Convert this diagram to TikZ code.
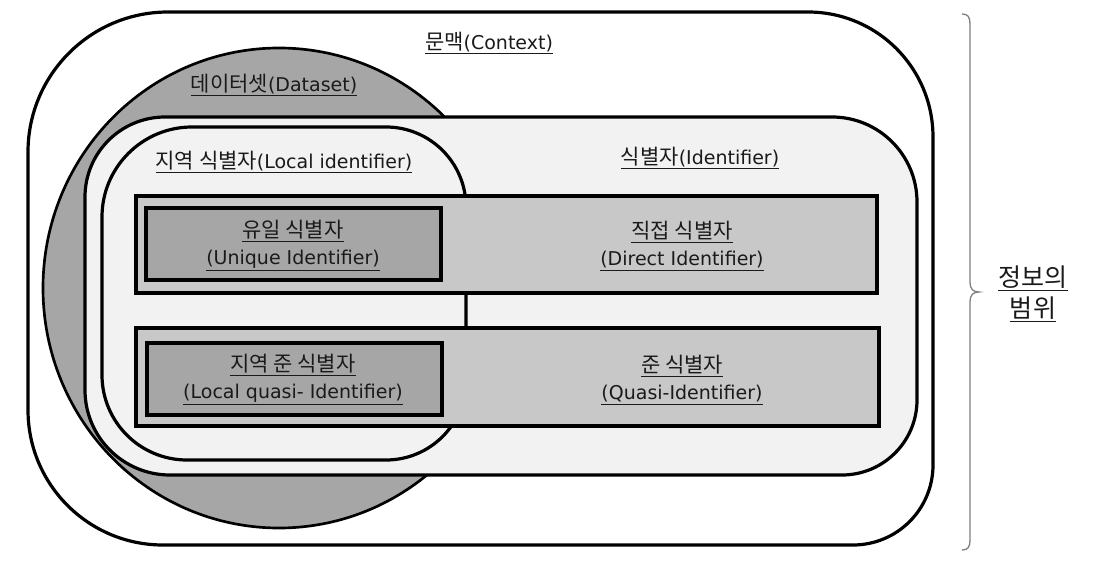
\documentclass[tikz,border=0pt]{standalone}
\usepackage{fontspec}
\setmainfont{DejaVu Sans}
\newfontfamily\kr[Scale=1.105]{Noto Sans CJK KR}
\definecolor{dsgray}{HTML}{A6A6A6}
\definecolor{idfill}{HTML}{F2F2F2}
\definecolor{rowfill}{HTML}{C8C8C8}
\definecolor{boxfill}{HTML}{A6A6A6}
\definecolor{txtc}{HTML}{1A1A1A}
\definecolor{bracec}{HTML}{808080}
\begin{document}
\begin{tikzpicture}[x=0.75pt,y=-0.75pt,
  shapeline/.style={draw=black, line width=2.4pt},
  lbl/.style={inner sep=0pt, text=txtc, align=center, font=\fontsize{14.25pt}{20.25pt}\selectfont},
  biglbl/.style={inner sep=0pt, text=txtc, align=center, font=\fontsize{17pt}{23.25pt}\selectfont},
  bracestyle/.style={draw=bracec, line width=1pt}]
\useasboundingbox (0,0) rectangle (1108,567);
% context
\path[shapeline, fill=white] (168,12) -- (808,12) arc[start angle=-90,end angle=0,radius=125]
  -- (933,465) arc[start angle=0,end angle=90,radius=80]
  -- (163,545) arc[start angle=90,end angle=180,radius=135]
  -- (28,152) arc[start angle=180,end angle=270,radius=140] -- cycle;
% dataset ellipse
\path[draw=black, line width=2pt, fill=dsgray] (279,288) ellipse[x radius=236, y radius=240];
% identifier
\path[shapeline, fill=idfill] (165,117) -- (832,117) arc[start angle=-90,end angle=0,radius=85]
  -- (917,400) arc[start angle=0,end angle=90,radius=75]
  -- (170,475) arc[start angle=90,end angle=180,radius=85]
  -- (85,197) arc[start angle=180,end angle=270,radius=80] -- cycle;
% local identifier
\path[shapeline, fill=idfill] (192,127) -- (386,127) arc[start angle=-90,end angle=0,radius=80]
  -- (466,380) arc[start angle=0,end angle=90,radius=80]
  -- (187,460) arc[start angle=90,end angle=180,radius=85]
  -- (102,217) arc[start angle=180,end angle=270,radius=90] -- cycle;
% rows
\path[shapeline, fill=rowfill] (136,196) rectangle (877,293);
\path[shapeline, fill=rowfill] (136,328) rectangle (879,426);
\path[shapeline, fill=boxfill] (146,208) rectangle (441,280);
\path[shapeline, fill=boxfill] (147,343) rectangle (442,415);
% labels
\node[lbl] (ctx) at (489,43) {\underline{{\kr 문맥}(Context)}};
\node[lbl] (ds) at (274,85) {\underline{{\kr 데이터셋}(Dataset)}};
\node[lbl] (idl) at (700,158) {\underline{{\kr 식별자}(Identifier)}};
\node[lbl] (lidl) at (284,162) {\underline{{\kr 지역 식별자}(Local identifier)}};
\node[lbl] (unq) at (293,246) {\underline{\kr 유일 식별자}\\\underline{(Unique Identifier)}};
\node[lbl] (dir) at (682,246) {\underline{\kr 직접 식별자}\\\underline{(Direct Identifier)}};
\node[lbl] (lqs) at (293,380) {\underline{\kr 지역 준 식별자}\\\underline{(Local quasi- Identifier)}};
\node[lbl] (qs) at (682,380) {\underline{\kr 준 식별자}\\\underline{(Quasi-Identifier)}};
% brace
\draw[bracestyle] (962,14) .. controls (968,14) and (970,17) .. (970,24) -- (970,282)
  .. controls (970,289) and (973,292) .. (979,292)
  .. controls (973,292) and (970,295) .. (970,302) -- (970,540)
  .. controls (970,547) and (968,550) .. (962,550);
\node[biglbl] (scope) at (1033,294) {\underline{\kr 정보의}\\\underline{\kr 범위}};
\end{tikzpicture}
\end{document}
